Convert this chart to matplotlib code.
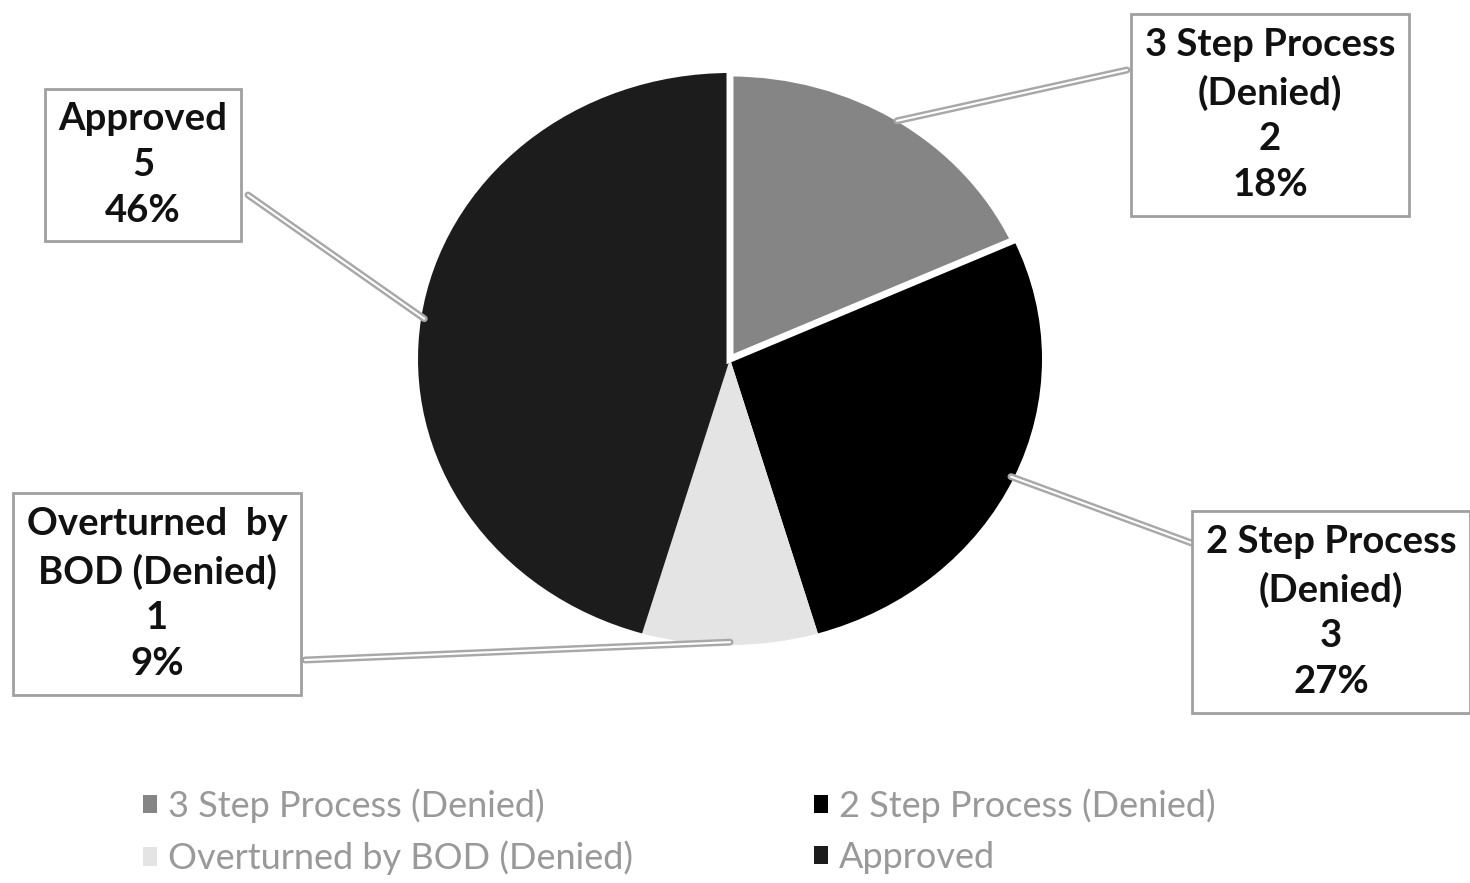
import numpy as np
import matplotlib
matplotlib.use("Agg")
import matplotlib.pyplot as plt
import matplotlib.patheffects as pe
from matplotlib.patches import Patch

# data
categories = ["3 Step Process (Denied)", "2 Step Process (Denied)",
              "Overturned by BOD (Denied)", "Approved"]
box_titles = ["3 Step Process\n(Denied)", "2 Step Process\n(Denied)",
              "Overturned  by\nBOD (Denied)", "Approved"]
counts = [2, 3, 1, 5]
pct_labels = ["18%", "27%", "9%", "46%"]
colors = ["#858585", "#000000", "#e4e4e4", "#1c1c1c"]

W, H = 1470, 883
fig = plt.figure(figsize=(W / 100, H / 100), dpi=100, facecolor="white")
plt.rcParams["font.family"] = ["Lato", "DejaVu Sans"]


def fx(x, y):
    return (x / W, 1 - y / H)


# pie axes sized to the (slightly squashed) pie in the picture
left, right, top, bottom = 418, 1042, 73, 645
ax = fig.add_axes([left / W, 1 - bottom / H, (right - left) / W, (bottom - top) / H])
wedges, _ = ax.pie(counts, colors=colors, startangle=90, counterclock=False,
                   radius=1.0, wedgeprops=dict(linewidth=0))
# white gap around the first slice only
wedges[0].set_edgecolor("white")
wedges[0].set_linewidth(5)
wedges[0].set_zorder(3)
ax.set_aspect("auto")
ax.set_xlim(-1.0, 1.0)
ax.set_ylim(-1.0, 1.0)
ax.axis("off")

# label boxes: centre in pixels
box_centres = [(1270, 115), (1331, 612), (157, 594), (143, 165)]
line_ends = [(1127, 70), (1197, 545), (305, 660), (248, 195)]

for i, w in enumerate(wedges):
    mid = np.deg2rad((w.theta1 + w.theta2) / 2)
    r = 0.99
    cx, cy = w.center
    xy = (cx + r * np.cos(mid), cy + r * np.sin(mid))
    ax.annotate("", xy=xy, xycoords="data",
                xytext=fx(*line_ends[i]), textcoords="figure fraction",
                arrowprops=dict(arrowstyle="-", color="white", lw=1.5,
                                shrinkA=0, shrinkB=0,
                                path_effects=[pe.Stroke(linewidth=5, foreground="#a8a8a8"),
                                              pe.Normal()]))
    txt = f"{box_titles[i]}\n{counts[i]}\n{pct_labels[i]}"
    fig.text(*fx(*box_centres[i]), txt, ha="center", va="center",
             fontsize=27.5, fontweight="bold", color="#111111", linespacing=1.42,
             bbox=dict(boxstyle="square,pad=0.35", fc="white", ec="#a0a0a0", lw=2))

handles = [Patch(facecolor=c, edgecolor="none") for c in colors]
order = [0, 2, 1, 3]
fig.legend([handles[k] for k in order], [categories[k] for k in order],
           ncol=2, loc="upper left", bbox_to_anchor=fx(143, 788), frameon=False,
           borderaxespad=0, borderpad=0,
           fontsize=26, labelcolor="#999999", handlelength=0.4, handleheight=0.4,
           handletextpad=0.3, columnspacing=5.0, labelspacing=0.5)

fig.savefig("out.png", dpi=100, facecolor="white")
